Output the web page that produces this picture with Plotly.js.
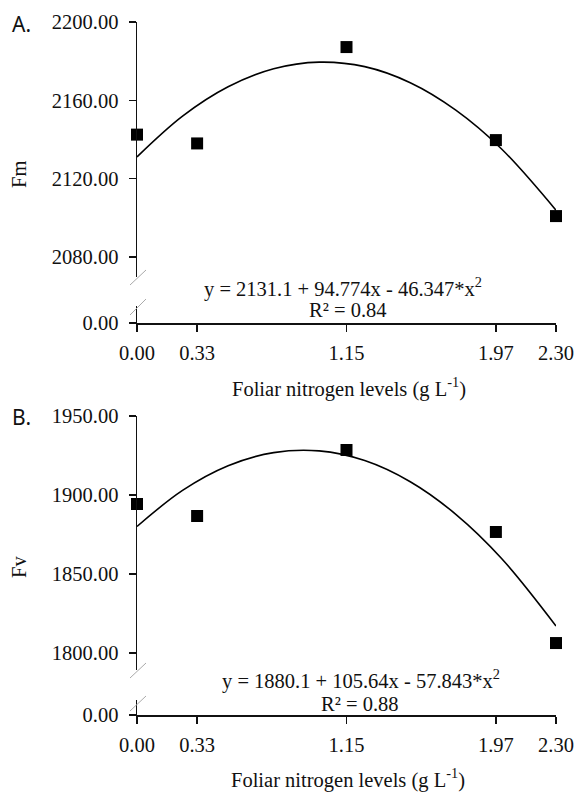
<!DOCTYPE html>
<html>
<head>
<meta charset="utf-8">
<script src="https://cdn.plot.ly/plotly-3.0.1.min.js"></script>
<style>html,body{margin:0;padding:0;background:#fff;}#chart{width:578px;height:792px;}</style>
</head>
<body>
<div id="chart"></div>
<script>
// ---- data ----
const xLevels = [0, 0.33, 1.15, 1.97, 2.30];
const fmObserved = [2142.5, 2138.0, 2187.2, 2139.7, 2100.9];
const fvObserved = [1894.3, 1886.7, 1928.5, 1876.6, 1806.3];
const fitX  = [0, 0.25, 0.5, 0.75, 1.0, 1.25, 1.5, 1.75, 2.0, 2.3];
const fmFit = [2131.1, 2151.9, 2166.9, 2176.1, 2179.5, 2177.2, 2169.0, 2155.0, 2135.3, 2103.9];
const fvFit = [1880.1, 1902.9, 1918.5, 1926.8, 1927.9, 1921.8, 1908.4, 1887.8, 1860.0, 1817.1];
const xTickVals = [0, 0.33, 1.15, 1.97, 2.30];
const xTickText = ['0.00', '0.33', '1.15', '1.97', '2.30'];
const fmTicks = [2080, 2120, 2160, 2200];
const fvTicks = [1800, 1850, 1900, 1950];
const zeroTick = [0];
const zeroTickText = ['0.00'];
const fmEquation = 'y = 2131.1 + 94.774x - 46.347*x<sup>2</sup>';
const fvEquation = 'y = 1880.1 + 105.64x - 57.843*x<sup>2</sup>';
const fmR2 = 'R² = 0.84';
const fvR2 = 'R² = 0.88';
const xTitle = 'Foliar nitrogen levels (g L<sup>-1</sup>)';

// ---- layout helpers (pixel -> paper) ----
const W = 578, H = 792;
const px = v => v / W;
const py = v => 1 - v / H;
const FAMILY = '"Liberation Serif", "Times New Roman", serif';
const serif = () => ({family: FAMILY, size: 20.5, color: '#111'});
const sans = () => ({family: '"Noto Sans", "Open Sans", sans-serif', size: 21, color: '#111'});

const axis = extra => Object.assign({
  showline: true, linecolor: '#111', linewidth: 1.5,
  ticks: 'outside', ticklen: 7, tickwidth: 1.5, tickcolor: '#111',
  showgrid: false, zeroline: false, tickfont: serif(), fixedrange: true,
  ticklabelstandoff: 6
}, extra);

const traces = [
  {x: fitX, y: fmFit, xaxis: 'x', yaxis: 'y', mode: 'lines', line: {color: '#000', width: 1.6, shape: 'spline'}, hoverinfo: 'skip'},
  {x: xLevels, y: fmObserved, xaxis: 'x', yaxis: 'y', mode: 'markers', marker: {symbol: 'square', size: 12, color: '#000'}, cliponaxis: false},
  {x: [null], y: [null], xaxis: 'x', yaxis: 'y2', mode: 'markers', hoverinfo: 'skip'},
  {x: fitX, y: fvFit, xaxis: 'x2', yaxis: 'y3', mode: 'lines', line: {color: '#000', width: 1.6, shape: 'spline'}, hoverinfo: 'skip'},
  {x: xLevels, y: fvObserved, xaxis: 'x2', yaxis: 'y3', mode: 'markers', marker: {symbol: 'square', size: 12, color: '#000'}, cliponaxis: false},
  {x: [null], y: [null], xaxis: 'x2', yaxis: 'y4', mode: 'markers', hoverinfo: 'skip'}
];

const xDomain = [px(137), px(556)];

const layout = {
  width: W, height: H,
  margin: {l: 0, r: 0, t: 0, b: 0},
  font: serif(),
  paper_bgcolor: '#fff', plot_bgcolor: 'rgba(0,0,0,0)',
  showlegend: false,
  xaxis: axis({domain: xDomain, range: [0, 2.3], anchor: 'y2', tickvals: xTickVals, ticktext: xTickText, ticklabelstandoff: 4}),
  yaxis: axis({domain: [py(277), py(22)], range: [2069.8, 2200], anchor: 'x', tickvals: fmTicks, tickformat: '.2f'}),
  yaxis2: axis({domain: [py(323), py(306)], range: [0, 1], anchor: 'x', tickvals: zeroTick, ticktext: zeroTickText}),
  xaxis2: axis({domain: xDomain, range: [0, 2.3], anchor: 'y4', tickvals: xTickVals, ticktext: xTickText, ticklabelstandoff: 4}),
  yaxis3: axis({domain: [py(670), py(416)], range: [1789.24, 1950], anchor: 'x2', tickvals: fvTicks, tickformat: '.2f'}),
  yaxis4: axis({domain: [py(715), py(700)], range: [0, 1], anchor: 'x2', tickvals: zeroTick, ticktext: zeroTickText}),
  shapes: [
    {type: 'line', xref: 'paper', yref: 'paper', x0: px(130), y0: py(285), x1: px(146), y1: py(270), line: {color: '#aaa', width: 1}},
    {type: 'line', xref: 'paper', yref: 'paper', x0: px(130), y0: py(315), x1: px(146), y1: py(299), line: {color: '#aaa', width: 1}},
    {type: 'line', xref: 'paper', yref: 'paper', x0: px(130), y0: py(678), x1: px(146), y1: py(663), line: {color: '#aaa', width: 1}},
    {type: 'line', xref: 'paper', yref: 'paper', x0: px(130), y0: py(711), x1: px(146), y1: py(696), line: {color: '#aaa', width: 1}}
  ],
  annotations: [
    {text: 'A.', xref: 'paper', yref: 'paper', x: px(10), y: py(24), xanchor: 'left', yanchor: 'middle', showarrow: false, font: sans()},
    {text: 'B.', xref: 'paper', yref: 'paper', x: px(10), y: py(417), xanchor: 'left', yanchor: 'middle', showarrow: false, font: sans()},
    {text: 'Fm', xref: 'paper', yref: 'paper', x: px(19), y: py(175), xanchor: 'center', yanchor: 'middle', textangle: -90, showarrow: false, font: serif()},
    {text: 'Fv', xref: 'paper', yref: 'paper', x: px(19), y: py(567), xanchor: 'center', yanchor: 'middle', textangle: -90, showarrow: false, font: serif()},
    {text: fmEquation, xref: 'paper', yref: 'paper', x: px(343), y: py(287), xanchor: 'center', yanchor: 'middle', showarrow: false, font: serif()},
    {text: fmR2, xref: 'paper', yref: 'paper', x: px(348), y: py(310), xanchor: 'center', yanchor: 'middle', showarrow: false, font: serif()},
    {text: fvEquation, xref: 'paper', yref: 'paper', x: px(361), y: py(679), xanchor: 'center', yanchor: 'middle', showarrow: false, font: serif()},
    {text: fvR2, xref: 'paper', yref: 'paper', x: px(360), y: py(704), xanchor: 'center', yanchor: 'middle', showarrow: false, font: serif()},
    {text: xTitle, xref: 'paper', yref: 'paper', x: px(349), y: py(387), xanchor: 'center', yanchor: 'middle', showarrow: false, font: serif()},
    {text: xTitle, xref: 'paper', yref: 'paper', x: px(348), y: py(778), xanchor: 'center', yanchor: 'middle', showarrow: false, font: serif()}
  ]
};

Plotly.newPlot('chart', traces, layout, {staticPlot: true, displayModeBar: false});
</script>
</body>
</html>
